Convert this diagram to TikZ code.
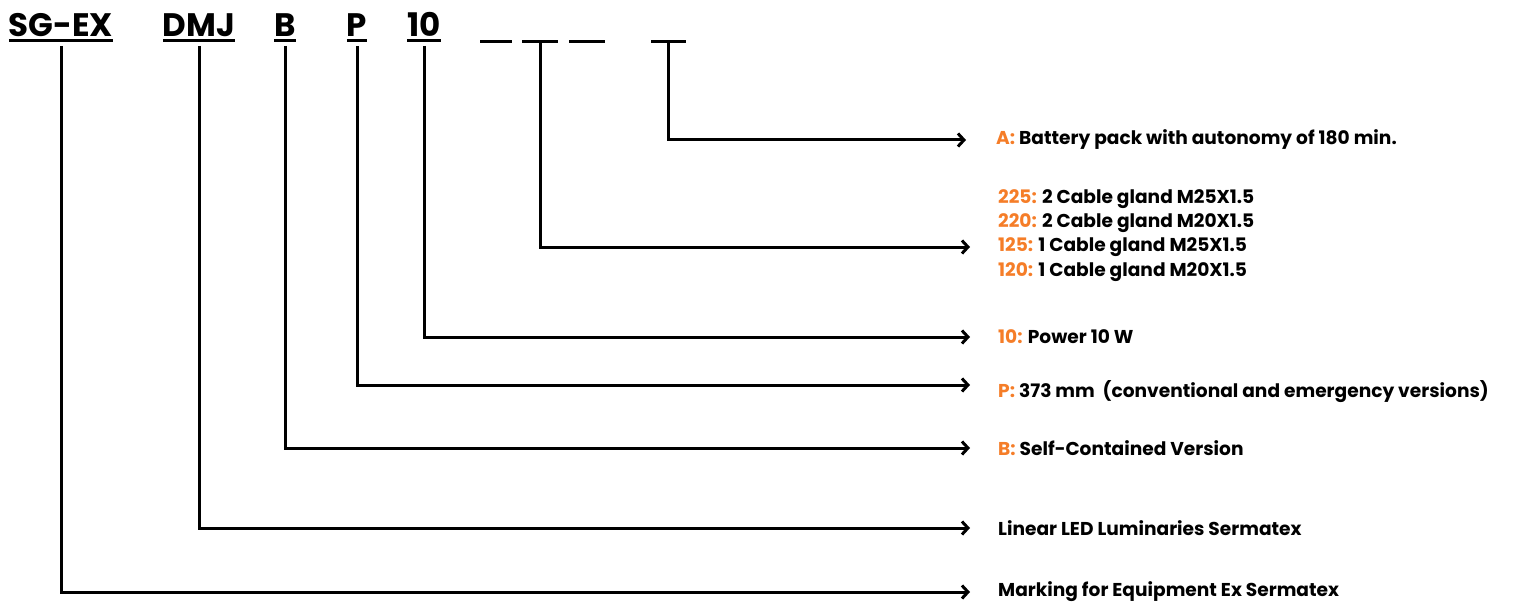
\documentclass[tikz,border=0pt]{standalone}
\usepackage{fontspec}
\setmainfont{Poppins}
\usetikzlibrary{arrows.meta}
\usetikzlibrary{positioning}
\definecolor{keyorange}{RGB}{245,125,40}
\newcommand{\ky}[1]{\textcolor{keyorange}{#1}}

\begin{document}
\begin{tikzpicture}[x=1pt,y=-1pt,
    codetxt/.style={font=\fontsize{32.5}{36}\selectfont\bfseries, inner sep=0pt, outer sep=0pt, text depth=0pt, anchor=base},
    desc/.style={font=\fontsize{18.6}{22}\selectfont\bfseries, inner sep=0pt, anchor=west},
    wire/.style={line width=3pt, -{Straight Barb[length=6pt,width=13pt]}, shorten <=9pt, shorten >=28pt},
    dashbar/.style={line width=3pt}]
    \useasboundingbox (0,0) rectangle (1517,604);
    % code letters
    \node[codetxt] (sgex) at (61,37) {SG-EX};
    \node[codetxt] (dmj) at (199,37) {DMJ};
    \node[codetxt] (b) at (285,37) {B};
    \node[codetxt] (p) at (357,37) {P};
    \node[codetxt] (ten) at (424,37) {10};
    \foreach \n in {sgex,dmj,b,p,ten}
      \draw[dashbar] ([yshift=-4pt]\n.south west) -- ([yshift=-4pt]\n.south east);
    % blanks
    \draw[dashbar] (480,42) -- (512,42);
    \draw[dashbar] (522,42) -- (558,42);
    \draw[dashbar] (569,42) -- (605,42);
    \draw[dashbar] (651,42) -- (686,42);
    \coordinate (d2) at (540,42);
    \coordinate (d4) at (668,42);
    % descriptions
    \node[desc] (lA) at (996,140) {\ky{A:} Battery pack with autonomy of 180 min.};
    \node[desc] (l225) at (998,199) {\ky{225:} 2 Cable gland M25X1.5};
    \node[desc] (l220) at (998,223) {\ky{220:} 2 Cable gland M20X1.5};
    \node[desc] (l125) at (998,247) {\ky{125:} 1 Cable gland M25X1.5};
    \node[desc] (l120) at (998,272) {\ky{120:} 1 Cable gland M20X1.5};
    \node[desc] (lpow) at (998,337) {\ky{10:} Power 10 W};
    \node[desc] (lp) at (998,392) {\ky{P:} 373 mm\ \ (conventional and emergency versions)};
    \node[desc] (lb) at (998,448) {\ky{B:} Self-Contained Version};
    \node[desc] (llin) at (998,528) {Linear LED Luminaries Sermatex};
    \node[desc] (lmark) at (998,592) {Marking for Equipment Ex Sermatex};
    % connectors
    \draw[wire] (sgex.south) |- (lmark.west);
    \draw[wire] (dmj.south) |- (llin.west);
    \draw[wire] (b.south) |- (lb.west);
    \draw[wire] (p.south) |- ([yshift=7pt]lp.west);
    \draw[wire] (ten.south) |- (lpow.west);
    \draw[wire, shorten <=0pt] (d2) |- (l125.west);
    \draw[wire, shorten <=0pt] (d4) |- ([xshift=-2pt]lA.west);
\end{tikzpicture}
\end{document}
